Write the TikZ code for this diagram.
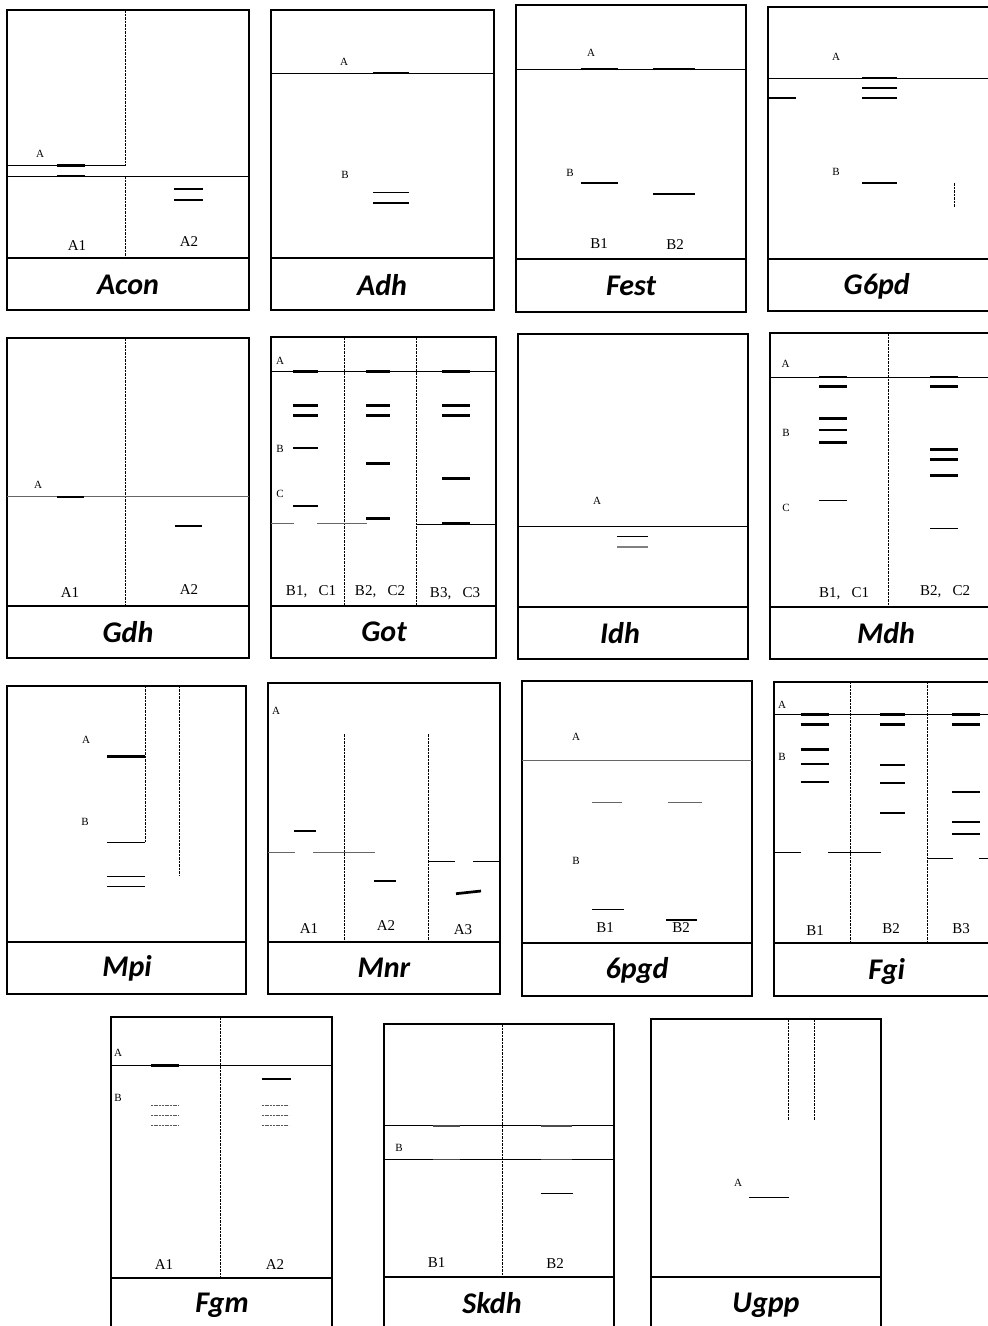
\documentclass[tikz,border=0pt]{standalone}
\usepackage{fontspec}
\setmainfont{Liberation Serif}
\newfontfamily\titlefont{Carlito}
\usepackage{tikz}

\begin{document}
\begin{tikzpicture}[
  x=1pt,y=-1pt,
  frame/.style={draw,line width=1.9pt},
  divide/.style={line width=2.1pt},
  lane/.style={line width=0.8pt,dash pattern=on 2.5pt off 1pt},
  front/.style={line width=0.9pt},
  gfront/.style={line width=1pt,draw=gray!80!black},
  band/.style={line width=2.7pt},
  lband/.style={line width=1.6pt},
  fband/.style={line width=1.1pt},
  dband/.style={line width=0.9pt,dash pattern=on 2pt off 0.7pt,draw=gray!70!black},
  tag/.style={font=\fontsize{11}{12}\selectfont,inner sep=0pt},
  lanelbl/.style={font=\fontsize{15}{16}\selectfont,inner sep=0pt},
  title/.style={font=\titlefont\bfseries\itshape\fontsize{30}{32}\selectfont,inner sep=0pt}
]
\useasboundingbox (0,0) rectangle (988,1326);
\clip (0,0) rectangle (988,1326);

%%%%%%%%%%%%%%%%%%%%%% Acon %%%%%%%%%%%%%%%%%%%%%%%%%
\draw[frame] (7,10) rectangle (249,310);
\draw[divide] (7,258) -- (249,258);
\draw[lane] (125.5,10) -- (125.5,165.5);
\draw[front] (125.5,165.5) -- (7,165.5);
\draw[front] (7,176) -- (249,176);
\draw[lane] (125.5,176) -- (125.5,258);
\draw[band] (57,165.5) -- (85,165.5);
\draw[band] (57,176) -- (85,176);
\draw[band] (174,189) -- (203,189);
\draw[band] (174,200) -- (203,200);
\node[tag] (aconA) at (40,154) {A};
\node[lanelbl] (aconA1) at (77,246) {A1};
\node[lanelbl] (aconA2) at (189,242) {A2};
\node[title] (acon) at (128,285) {Acon};

%%%%%%%%%%%%%%%%%%%%%% Adh %%%%%%%%%%%%%%%%%%%%%%%%%%
\draw[frame] (271,10) rectangle (494,310);
\draw[divide] (271,258) -- (494,258);
\draw[front] (271,73) -- (494,73);
\draw[lband] (373,73) -- (409,73);
\draw[fband] (373,192.5) -- (409,192.5);
\draw[fband] (373,203) -- (409,203);
\node[tag] (adhA) at (344,62) {A};
\node[tag] (adhB) at (345,175) {B};
\node[title] (adh) at (382,285) {Adh};

%%%%%%%%%%%%%%%%%%%%%% Fest %%%%%%%%%%%%%%%%%%%%%%%%%
\draw[frame] (516,5) rectangle (746,312);
\draw[divide] (516,259) -- (746,259);
\draw[front] (516,69) -- (746,69);
\draw[lband] (580.7,69) -- (617.7,69);
\draw[lband] (653,69) -- (695,69);
\draw[fband] (580.7,183) -- (617.7,183);
\draw[fband] (653,194) -- (695,194);
\node[tag] (festA) at (591,53) {A};
\node[tag] (festB) at (570,173) {B};
\node[lanelbl] (festB1) at (599,244) {B1};
\node[lanelbl] (festB2) at (675,245) {B2};
\node[title] (fest) at (631,286) {Fest};

%%%%%%%%%%%%%%%%%%%%%% G6pd %%%%%%%%%%%%%%%%%%%%%%%%%
\draw[frame] (768,7) rectangle (1000,311);
\draw[divide] (768,259) -- (1000,259);
\draw[front] (768,78) -- (1000,78);
\foreach \y in {78,88,98}
  \draw[fband] (862,\y) -- (897,\y);
\draw[fband] (768,98) -- (795.7,98);
\draw[fband] (862,183) -- (897,183);
\draw[lane] (954.7,183) -- (954.7,207);
\node[tag] (gpdA) at (836,57) {A};
\node[tag] (gpdB) at (836,172) {B};
\node[title] (gpd) at (876.7,286) {G6pd};

%%%%%%%%%%%%%%%%%%%%%% Gdh %%%%%%%%%%%%%%%%%%%%%%%%%%
\draw[frame] (7,338) rectangle (249,658);
\draw[divide] (7,606) -- (249,606);
\draw[lane] (125.7,338) -- (125.7,606);
\draw[gfront] (7,496.7) -- (249,496.7);
\draw[lband] (57,496.7) -- (84,496.7);
\draw[lband] (175,525.7) -- (202,525.7);
\node[tag] (gdhA) at (38,485) {A};
\node[lanelbl] (gdhA1) at (70,593) {A1};
\node[lanelbl] (gdhA2) at (189,590) {A2};
\node[title] (gdh) at (128,632) {Gdh};

%%%%%%%%%%%%%%%%%%%%%% Got %%%%%%%%%%%%%%%%%%%%%%%%%%
\draw[frame] (271,337) rectangle (496,658);
\draw[divide] (271,606) -- (496,606);
\draw[lane] (344,337) -- (344,606);
\draw[lane] (416,337) -- (416,606);
\draw[front] (271,371.3) -- (496,371.3);
\foreach \y in {371.3,405.7,415.7,448,506}
  \draw[band] (293,\y) -- (318,\y);
\foreach \y in {371.3,405.7,415.7,463.7,518.7}
  \draw[band] (366,\y) -- (390,\y);
\foreach \y in {371.3,405.7,415.7,478.3,523.3}
  \draw[band] (442,\y) -- (470,\y);
\draw[gfront] (271,523.7) -- (294,523.7);
\draw[gfront] (317,523.7) -- (367,523.7);
\draw[front] (416,524.7) -- (496,524.7);
\node[tag] (gotA) at (280,361) {A};
\node[tag] (gotB) at (280,449) {B};
\node[tag] (gotC) at (280,494) {C};
\node[lanelbl] (gotL1) at (311,592) {B1,\ \ \ C1};
\node[lanelbl] (gotL2) at (380,592) {B2,\ \ \ C2};
\node[lanelbl] (gotL3) at (455,594) {B3,\ \ \ C3};
\node[title] (got) at (384,632) {Got};

%%%%%%%%%%%%%%%%%%%%%% Idh %%%%%%%%%%%%%%%%%%%%%%%%%%
\draw[frame] (518,334) rectangle (748,659);
\draw[divide] (518,607) -- (748,607);
\draw[front] (518,526.7) -- (748,526.7);
\draw[fband] (617,536.7) -- (648,536.7);
\draw[fband,draw=gray] (617,547) -- (648,547);
\node[tag] (idhA) at (597,501) {A};
\node[title] (idh) at (620,633) {Idh};

%%%%%%%%%%%%%%%%%%%%%% Mdh %%%%%%%%%%%%%%%%%%%%%%%%%%
\draw[frame] (770,333) rectangle (1000,659);
\draw[divide] (770,607) -- (1000,607);
\draw[lane] (888,333) -- (888,607);
\draw[front] (770,377) -- (1000,377);
\foreach \y in {377,386.7,418.7,430,442.3}
  \draw[band] (819,\y) -- (847,\y);
\draw[fband] (819,500.7) -- (847,500.7);
\foreach \y in {377,386.7,449.7,459.7,475.7}
  \draw[band] (930,\y) -- (958,\y);
\draw[fband] (930,528.7) -- (958,528.7);
\node[tag] (mdhA) at (785.7,364) {A};
\node[tag] (mdhB) at (786,433) {B};
\node[tag] (mdhC) at (786,508) {C};
\node[lanelbl] (mdhL1) at (844,594) {B1,\ \ \ C1};
\node[lanelbl] (mdhL2) at (945,592) {B2,\ \ \ C2};
\node[title] (mdh) at (886,633) {Mdh};

%%%%%%%%%%%%%%%%%%%%%% Mpi %%%%%%%%%%%%%%%%%%%%%%%%%%
\draw[frame] (7,685.7) rectangle (246,994);
\draw[divide] (7,941.7) -- (246,941.7);
\draw[lane] (145,685.7) -- (145,842.3);
\draw[front] (145,842.3) -- (107,842.3);
\draw[lane] (179.7,685.7) -- (179.7,876);
\draw[band] (107,756.7) -- (145,756.7);
\draw[fband] (107,876.3) -- (145,876.3);
\draw[fband] (107,886.7) -- (145,886.7);
\node[tag] (mpiA) at (86,740) {A};
\node[tag] (mpiB) at (85,821.7) {B};
\node[title] (mpi) at (127,968) {Mpi};

%%%%%%%%%%%%%%%%%%%%%% Mnr %%%%%%%%%%%%%%%%%%%%%%%%%%
\draw[frame] (268,683) rectangle (500,994);
\draw[divide] (268,941.7) -- (500,941.7);
\draw[lane] (344,734) -- (344,941.7);
\draw[lane] (428,734) -- (428,941.7);
\draw[gfront] (268,852.7) -- (295,852.7);
\draw[gfront] (313,852.7) -- (375,852.7);
\draw[front] (428,861) -- (455,861);
\draw[front] (473,861) -- (500,861);
\draw[band] (294,831) -- (316,831);
\draw[band] (374,881) -- (396,881);
\draw[band] (456,893.7) -- (481,891);
\node[tag] (mnrA) at (276,710.7) {A};
\node[lanelbl] (mnrA1) at (309,929) {A1};
\node[lanelbl] (mnrA2) at (386,926) {A2};
\node[lanelbl] (mnrA3) at (463,930) {A3};
\node[title] (mnr) at (384,968) {Mnr};

%%%%%%%%%%%%%%%%%%%%%% 6pgd %%%%%%%%%%%%%%%%%%%%%%%%%
\draw[frame] (521.7,681) rectangle (752.3,995.7);
\draw[divide] (521.7,942.7) -- (752.3,942.7);
\draw[gfront] (521.7,760) -- (752.3,760);
\draw[fband,draw=gray!80!black] (591.7,802.7) -- (622,802.7);
\draw[fband,draw=gray!80!black] (667.7,802.7) -- (702,802.7);
\draw[fband] (592,909.3) -- (624,909.3);
\draw[fband] (666,920) -- (697,920);
\node[tag] (pgdA) at (576,737) {A};
\node[tag] (pgdB) at (576,861) {B};
\node[lanelbl] (pgdB1) at (605,928) {B1};
\node[lanelbl] (pgdB2) at (681,928) {B2};
\node[title] (pgd) at (637,970) {6pgd};

%%%%%%%%%%%%%%%%%%%%%% Fgi %%%%%%%%%%%%%%%%%%%%%%%%%%
\draw[frame] (774,681.7) rectangle (1000,995.7);
\draw[divide] (774,942.7) -- (1000,942.7);
\draw[lane] (850,681.7) -- (850,942.7);
\draw[lane] (927,681.7) -- (927,942.7);
\draw[front] (774,714.3) -- (1000,714.3);
\foreach \y in {714.3,724.7,749.3,764,782}
  \draw[band] (800.7,\y) -- (828.7,\y);
\foreach \y in {714.3,724.7,765,783,813}
  \draw[band] (880.3,\y) -- (905.3,\y);
\foreach \y in {714.3,724.7,792,822,834}
  \draw[band] (952.3,\y) -- (980,\y);
\draw[front] (774,852) -- (801,852);
\draw[front] (828.3,852) -- (881,852);
\draw[front] (927,858.7) -- (953,858.7);
\draw[front] (979,858.7) -- (1000,858.7);
\node[tag] (fgiA) at (782,705) {A};
\node[tag] (fgiB) at (782,756.7) {B};
\node[lanelbl] (fgiB1) at (815,930.7) {B1};
\node[lanelbl] (fgiB2) at (891,929) {B2};
\node[lanelbl] (fgiB3) at (961,929) {B3};
\node[title] (fgi) at (886.7,971) {Fgi};

%%%%%%%%%%%%%%%%%%%%%% Fgm %%%%%%%%%%%%%%%%%%%%%%%%%%
\draw[frame] (111,1017.3) rectangle (332.3,1335);
\draw[divide] (111,1277.7) -- (332.3,1277.7);
\draw[lane] (220.7,1017.3) -- (220.7,1277.7);
\draw[front] (111,1065.3) -- (332.3,1065.3);
\draw[band] (151,1065.3) -- (179.3,1065.3);
\draw[band] (261.7,1079) -- (290.7,1079);
\foreach \y in {1105,1115,1125} {
  \draw[dband] (151,\y) -- (179,\y);
  \draw[dband] (262,\y) -- (289,\y);
}
\node[tag] (fgmA) at (118,1053) {A};
\node[tag] (fgmB) at (118,1098) {B};
\node[lanelbl] (fgmA1) at (164,1265) {A1};
\node[lanelbl] (fgmA2) at (275,1265) {A2};
\node[title] (fgm) at (222,1305) {Fgm};

%%%%%%%%%%%%%%%%%%%%%% Skdh %%%%%%%%%%%%%%%%%%%%%%%%%
\draw[frame] (384,1024) rectangle (614.3,1335);
\draw[divide] (384,1276.7) -- (614.3,1276.7);
\draw[lane] (502.3,1024) -- (502.3,1276.7);
\foreach \y in {1125.7,1159.3} {
  \draw[front] (384,\y) -- (614.3,\y);
  \draw[lband,draw=gray!60!black] (433,\y) -- (460,\y);
  \draw[lband,draw=gray!60!black] (541,\y) -- (572,\y);
}
\draw[fband] (541,1193.3) -- (573.3,1193.3);
\node[tag] (skdhB) at (399,1147.7) {B};
\node[lanelbl] (skdhB1) at (436.7,1263) {B1};
\node[lanelbl] (skdhB2) at (555,1264) {B2};
\node[title] (skdh) at (492,1303) {Skdh};

%%%%%%%%%%%%%%%%%%%%%% Ugpp %%%%%%%%%%%%%%%%%%%%%%%%%
\draw[frame] (650.7,1019.3) rectangle (881,1335);
\draw[divide] (650.7,1276.7) -- (881,1276.7);
\draw[lane] (788.3,1019.3) -- (788.3,1120);
\draw[lane] (814.3,1019.3) -- (814.3,1120);
\draw[fband] (749.3,1197.3) -- (788.7,1197.3);
\node[tag] (ugppA) at (738,1182.7) {A};
\node[title] (ugpp) at (766,1305) {Ugpp};
\end{tikzpicture}
\end{document}
